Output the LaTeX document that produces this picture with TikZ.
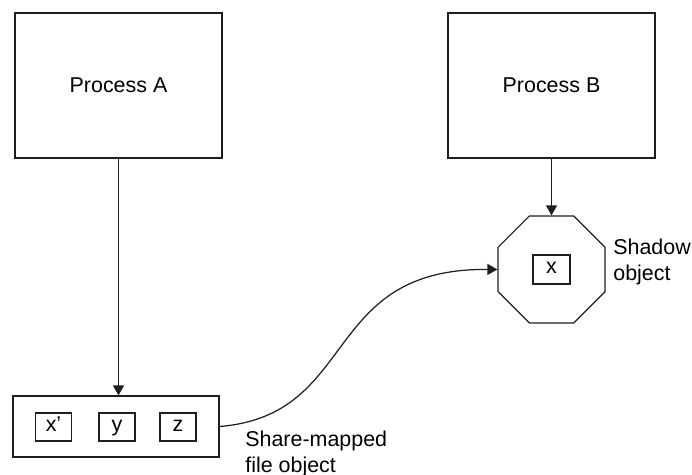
\documentclass[tikz,border=0pt]{standalone}
\usepackage{fontspec}
\setmainfont{Liberation Sans}
\usetikzlibrary{arrows.meta, shapes.geometric, calc}
\definecolor{ink}{RGB}{30,30,30}

\begin{document}
\begin{tikzpicture}[x=0.02cm, y=-0.02cm,
    every node/.style={font=\fontsize{12.2}{14.7}\selectfont},
    box/.style={draw=ink, line width=0.7pt, inner sep=0pt},
    cell/.style={box, minimum width=0.72cm, minimum height=0.56cm, text height=1.2ex, text depth=0.3ex},
    arr/.style={draw=ink, line width=0.7pt, -{Triangle[length=2mm, width=2.2mm]}}]
  \useasboundingbox (0,0) rectangle (692,475);
  \node[box, minimum width=4.14cm, minimum height=2.9cm] (procA) at (118.5,85.5) {Process A};
  \node[box, minimum width=4.14cm, minimum height=2.9cm] (procB) at (551.5,85.5) {Process B};
  \node[box, minimum width=4.12cm, minimum height=1.22cm] (fileobj) at (116,426.5) {};
  \node[cell] (cx) at (53.5,427) {x'};
  \node[cell] (cy) at (117,427) {y};
  \node[cell] (cz) at (178,427) {z};
  \node[box, regular polygon, regular polygon sides=8,
        minimum size=2.316cm] (shadow) at (551.5,269.5) {};
  \node[cell, minimum width=0.74cm, minimum height=0.58cm] (sx) at (551.5,269.5) {x};
  \node[anchor=north west, inner sep=0pt, align=left] (shadowlbl) at (613,239) {Shadow\\object};
  \node[anchor=north west, inner sep=0pt, align=left] (filelbl) at (245,431) {Share-mapped\\file object};
  \draw[arr] (procA.south) -- (procA.south |- fileobj.north);
  \draw[arr] (procB.south) -- (shadow.north);
  \draw[arr] (fileobj.east) .. controls (360,415) and (320,268) .. (shadow.west);
\end{tikzpicture}
\end{document}
